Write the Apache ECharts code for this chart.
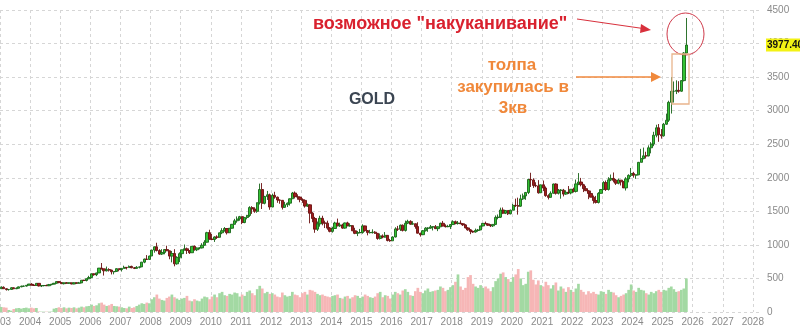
<!DOCTYPE html>
<html>
<head>
<meta charset="utf-8">
<script src="https://cdn.jsdelivr.net/npm/echarts@6/dist/echarts.min.js"></script>
<style>html,body{margin:0;padding:0;background:#fff}#c{width:800px;height:331px}</style>
</head>
<body>
<div id="c"></div>
<script>
// Monthly GOLD candles, Jan 2003 .. Oct 2025
const startYear = 2003;
const open = [
 347,368,347,334,336,361,346,354,375,384,386,398,
 417,399,396,427,388,393,395,391,408,415,428,453,
 438,422,435,428,435,417,436,429,433,473,470,495,
 513,569,556,582,654,643,614,633,624,599,604,646,
 632,650,665,662,679,659,650,666,672,743,789,783,
 834,923,971,916,863,887,930,912,833,871,718,814,
 869,927,942,916,883,979,927,954,955,995,1040,1182,
 1087,1081,1118,1113,1180,1212,1244,1181,1248,1307,1359,1386,
 1421,1333,1409,1439,1556,1536,1500,1628,1825,1620,1722,1746,
 1564,1738,1711,1669,1664,1559,1598,1622,1687,1773,1719,1712,
 1675,1663,1578,1597,1472,1393,1234,1313,1396,1327,1323,1250,
 1202,1244,1326,1284,1296,1250,1327,1282,1287,1210,1172,1182,
 1184,1283,1213,1183,1183,1190,1172,1095,1134,1115,1142,1065,
 1061,1118,1238,1233,1293,1215,1322,1351,1309,1316,1273,1174,
 1152,1211,1249,1249,1268,1269,1242,1269,1322,1280,1271,1275,
 1303,1345,1318,1325,1315,1298,1253,1224,1201,1192,1215,1222,
 1282,1321,1313,1292,1284,1305,1409,1413,1520,1472,1513,1464,
 1517,1589,1585,1577,1686,1730,1781,1975,1968,1886,1879,1776,
 1895,1847,1734,1708,1769,1907,1770,1814,1814,1757,1783,1774,
 1829,1797,1909,1937,1897,1838,1807,1766,1711,1661,1633,1768,
 1824,1928,1827,1969,1990,1963,1919,1965,1940,1849,1983,2036,
 2063,2039,2044,2230,2286,2327,2326,2447,2503,2634,2744,2643,
 2625,2798,2857,3124,3289,3289,3303,3290,3448,3858
];
const high = [
 383,382,353,341,371,366,367,377,393,393,400,417,
 428,418,430,428,393,401,409,418,415,433,455,456,
 442,439,446,438,437,442,438,448,474,479,497,539,
 574,575,585,654,730,645,677,652,630,606,650,648,
 652,690,669,693,690,670,684,678,746,795,848,838,
 927,975,1032,935,936,939,988,915,910,936,831,889,
 927,1006,960,918,980,991,961,963,1025,1070,1195,1226,
 1162,1128,1143,1181,1249,1265,1245,1251,1310,1388,1424,1432,
 1424,1411,1447,1576,1577,1561,1632,1913,1921,1730,1804,1764,
 1764,1791,1720,1677,1668,1641,1630,1692,1789,1796,1754,1723,
 1694,1679,1617,1605,1488,1417,1348,1434,1434,1361,1361,1267,
 1270,1345,1392,1331,1315,1332,1345,1322,1290,1255,1208,1238,
 1307,1287,1219,1224,1232,1205,1174,1170,1156,1191,1146,1089,
 1128,1263,1283,1303,1304,1362,1375,1367,1353,1318,1337,1180,
 1220,1264,1262,1296,1270,1296,1275,1331,1357,1306,1299,1307,
 1366,1362,1356,1365,1326,1309,1265,1236,1214,1243,1237,1284,
 1326,1347,1324,1310,1306,1439,1453,1555,1557,1517,1516,1525,
 1611,1689,1704,1748,1765,1789,1984,2075,1992,1933,1965,1896,
 1959,1871,1755,1798,1913,1917,1833,1831,1834,1814,1877,1831,
 1853,1974,2070,1998,1910,1879,1814,1808,1735,1730,1786,1833,
 1949,1959,2009,2048,2079,1983,1987,1966,1953,2009,2052,2146,
 2088,2052,2236,2431,2450,2388,2483,2531,2685,2790,2801,2726,
 2817,2956,3148,3500,3435,3452,3439,3454,3872,4381
];
const low = [
 343,345,320,319,334,341,342,352,369,376,379,396,
 398,393,394,381,372,382,387,386,398,411,422,428,
 418,411,425,420,414,414,418,428,432,460,456,489,
 510,540,535,580,634,543,604,603,560,561,602,606,
 603,648,634,660,652,640,648,650,670,727,779,778,
 834,884,902,853,849,860,908,786,740,681,705,744,
 800,914,865,865,882,915,908,933,947,990,1034,1075,
 1073,1044,1088,1112,1160,1198,1155,1181,1242,1304,1330,1360,
 1309,1323,1381,1417,1462,1478,1478,1602,1535,1604,1670,1523,
 1563,1688,1627,1613,1527,1553,1564,1586,1685,1691,1673,1635,
 1626,1555,1566,1321,1338,1180,1208,1271,1292,1251,1226,1187,
 1182,1240,1277,1268,1240,1241,1281,1272,1206,1160,1131,1172,
 1167,1196,1142,1170,1169,1162,1077,1080,1098,1107,1052,1046,
 1061,1111,1208,1207,1200,1199,1310,1301,1302,1241,1171,1123,
 1146,1200,1195,1241,1215,1236,1205,1266,1275,1260,1264,1236,
 1302,1307,1303,1310,1282,1246,1211,1160,1180,1183,1196,1221,
 1276,1310,1281,1266,1267,1301,1381,1400,1459,1459,1445,1454,
 1517,1565,1451,1568,1670,1671,1757,1863,1849,1860,1764,1775,
 1802,1717,1677,1705,1765,1750,1751,1688,1722,1746,1758,1753,
 1780,1781,1890,1872,1787,1805,1681,1709,1615,1617,1617,1765,
 1823,1804,1810,1950,1932,1893,1903,1885,1848,1810,1932,2010,
 2002,1984,2039,2228,2277,2287,2319,2364,2471,2603,2536,2583,
 2614,2789,2832,2957,3121,3247,3268,3282,3436,3850
];
const close = [
 368,347,334,336,361,346,354,375,384,386,398,417,
 399,396,427,388,393,395,391,408,415,428,453,438,
 422,435,428,435,417,436,429,433,473,470,495,513,
 569,556,582,654,643,614,633,624,599,604,646,632,
 650,665,662,679,659,650,666,672,743,789,783,834,
 923,971,916,863,887,930,912,833,871,718,814,869,
 927,942,916,883,979,927,954,955,995,1040,1182,1087,
 1081,1118,1113,1180,1212,1244,1181,1248,1307,1359,1386,1421,
 1333,1409,1439,1556,1536,1500,1628,1825,1620,1722,1746,1564,
 1738,1711,1669,1664,1559,1598,1622,1687,1773,1719,1712,1675,
 1663,1578,1597,1472,1393,1234,1313,1396,1327,1323,1250,1202,
 1244,1326,1284,1296,1250,1327,1282,1287,1210,1172,1182,1184,
 1283,1213,1183,1183,1190,1172,1095,1134,1115,1142,1065,1061,
 1118,1238,1233,1293,1215,1322,1351,1309,1316,1273,1174,1152,
 1211,1249,1249,1268,1269,1242,1269,1322,1280,1271,1275,1303,
 1345,1318,1325,1315,1298,1253,1224,1201,1192,1215,1222,1282,
 1321,1313,1292,1284,1305,1409,1413,1520,1472,1513,1464,1517,
 1589,1585,1577,1686,1730,1781,1975,1968,1886,1879,1776,1895,
 1847,1734,1708,1769,1907,1770,1814,1814,1757,1783,1774,1829,
 1797,1909,1937,1897,1838,1807,1766,1711,1661,1633,1768,1824,
 1928,1827,1969,1990,1963,1919,1965,1940,1849,1983,2036,2063,
 2039,2044,2230,2286,2327,2326,2447,2503,2634,2744,2643,2625,
 2798,2857,3124,3289,3289,3303,3290,3448,3858,3977.4
];
const volume = [
 75,70,65,30,20,45,55,60,50,60,65,55,
 65,55,60,8,5,5,5,5,6,50,60,70,
 60,70,55,65,60,70,55,65,80,70,85,90,
 110,90,100,130,140,110,90,100,120,90,85,80,
 70,60,55,80,60,70,90,110,130,120,140,130,
 190,220,260,200,180,170,210,230,260,220,200,180,
 200,210,240,170,160,190,170,160,200,230,220,190,
 230,260,220,280,300,250,240,270,260,290,280,230,
 260,240,300,320,280,250,340,390,350,280,300,270,
 280,260,230,220,290,250,230,240,300,260,250,220,
 280,300,260,330,320,300,270,250,260,240,230,220,
 240,250,260,210,200,230,240,200,220,250,240,210,
 230,260,240,220,210,230,280,300,220,250,240,200,
 260,300,280,260,320,340,300,250,240,310,360,300,
 280,320,350,300,310,320,330,380,360,310,330,370,
 400,450,560,380,330,360,520,550,420,380,360,400,
 360,380,350,310,370,460,500,570,590,520,490,450,
 520,560,640,500,400,420,600,620,480,410,470,400,
 380,450,400,350,400,440,320,380,350,300,370,330,
 300,350,420,330,300,260,310,280,300,270,260,310,
 300,270,330,300,290,250,220,240,260,280,330,410,
 320,300,360,330,320,280,260,300,280,310,330,300,
 330,320,360,380,340,300,310,330,350,500
];
const lastPriceLabel = '3977.40';
const xMin = 2003, xMax = 2028.27;
const yMin = 0, yMax = 4500, yStep = 500;

const monthX = open.map((_, i) => startYear + (i + 0.5) / 12);
const candles = open.map((o, i) => [monthX[i], o, close[i], low[i], high[i]]);
const vols = volume.map((v, i) => ({
  value: [monthX[i], v],
  itemStyle: { color: close[i] >= open[i] ? '#a3d9a3' : '#f6b6b6' }
}));

const FONT = '"Liberation Sans", Arial, sans-serif';
const chart = echarts.init(document.getElementById('c'), null, { renderer: 'canvas' });
chart.setOption({
  animation: false,
  backgroundColor: '#fff',
  grid: { left: 0, right: 39, top: 10, bottom: 19, outerBoundsMode: 'none' },
  xAxis: {
    type: 'value', min: xMin, max: xMax, interval: 1,
    axisLine: { show: false }, axisTick: { show: false },
    axisLabel: { color: '#8a8a8a', fontSize: 10, fontFamily: FONT, margin: 5,
      showMaxLabel: false,
      formatter: v => Number.isInteger(v) ? String(v) : '' },
    splitLine: { show: true, showMaxLine: false, lineStyle: { color: '#d6d6d6', type: [3, 3], width: 1 } }
  },
  yAxis: {
    type: 'value', position: 'right', min: yMin, max: yMax, interval: yStep,
    axisLine: { show: false }, axisTick: { show: false },
    axisLabel: { color: '#8a8a8a', fontSize: 10, fontFamily: FONT, margin: 6,
      formatter: v => String(v) },
    splitLine: { show: true, lineStyle: { color: '#d6d6d6', type: [3, 3], width: 1 } }
  },
  series: [
    { type: 'bar', data: vols, barWidth: 2.7, z: 1, silent: true },
    {
      type: 'candlestick', data: candles, encode: { x: 0, y: [1, 2, 3, 4] },
      barWidth: 2.8, z: 3, silent: true,
      itemStyle: {
        color: '#33c233', color0: '#a01c1c',
        borderColor: '#176417', borderColor0: '#6a1010', borderWidth: 0.9
      }
    }
  ]
});

// price tag on the right axis, positioned through the y scale
const lastClose = close[close.length - 1];
const tagY = chart.convertToPixel({ yAxisIndex: 0 }, lastClose);
const gridRight = chart.convertToPixel({ xAxisIndex: 0 }, xMax);

chart.setOption({
  graphic: [
    { type: 'text', z: 100, style: { text: lastPriceLabel, x: gridRight + 5, y: tagY, verticalAlign: 'middle',
        fill: '#111', font: 'bold 10px ' + FONT, backgroundColor: '#f3f214', padding: [2, 6, 1, 1] } },
    { type: 'text', z: 10, style: { text: 'возможное "накуканивание"', x: 313, y: 24, verticalAlign: 'middle', fill: '#d9212e', font: 'bold 18px ' + FONT } },
    { type: 'line', z: 10, shape: { x1: 577, y1: 19, x2: 643, y2: 28.5 }, style: { stroke: '#d8303c', lineWidth: 1 } },
    { type: 'polygon', z: 10, shape: { points: [[651, 30], [641, 24], [640, 33]] }, style: { fill: '#d8303c' } },
    { type: 'ellipse', z: 10, shape: { cx: 685.5, cy: 34, rx: 18.5, ry: 21 }, style: { fill: 'none', stroke: '#cf3a4a', lineWidth: 1 } },
    { type: 'text', z: 10, style: { text: 'толпа', x: 512, y: 65, align: 'center', verticalAlign: 'middle', fill: '#f0883a', font: 'bold 17px ' + FONT } },
    { type: 'text', z: 10, style: { text: 'закупилась в', x: 513, y: 87, align: 'center', verticalAlign: 'middle', fill: '#f0883a', font: 'bold 17px ' + FONT } },
    { type: 'text', z: 10, style: { text: '3кв', x: 513, y: 108, align: 'center', verticalAlign: 'middle', fill: '#f0883a', font: 'bold 17px ' + FONT } },
    { type: 'line', z: 10, shape: { x1: 576, y1: 77, x2: 652, y2: 77 }, style: { stroke: '#f0893c', lineWidth: 1.5 } },
    { type: 'polygon', z: 10, shape: { points: [[661, 77], [651, 72], [651, 82]] }, style: { fill: '#f0893c' } },
    { type: 'rect', z: 10, shape: { x: 672, y: 54, width: 17, height: 50 }, style: { fill: 'none', stroke: '#e9b48c', lineWidth: 1.3 } },
    { type: 'text', z: 10, style: { text: 'GOLD', x: 372, y: 100, align: 'center', verticalAlign: 'middle', fill: '#3b4552', font: 'bold 16px ' + FONT } }
  ]
});
</script>
</body>
</html>
